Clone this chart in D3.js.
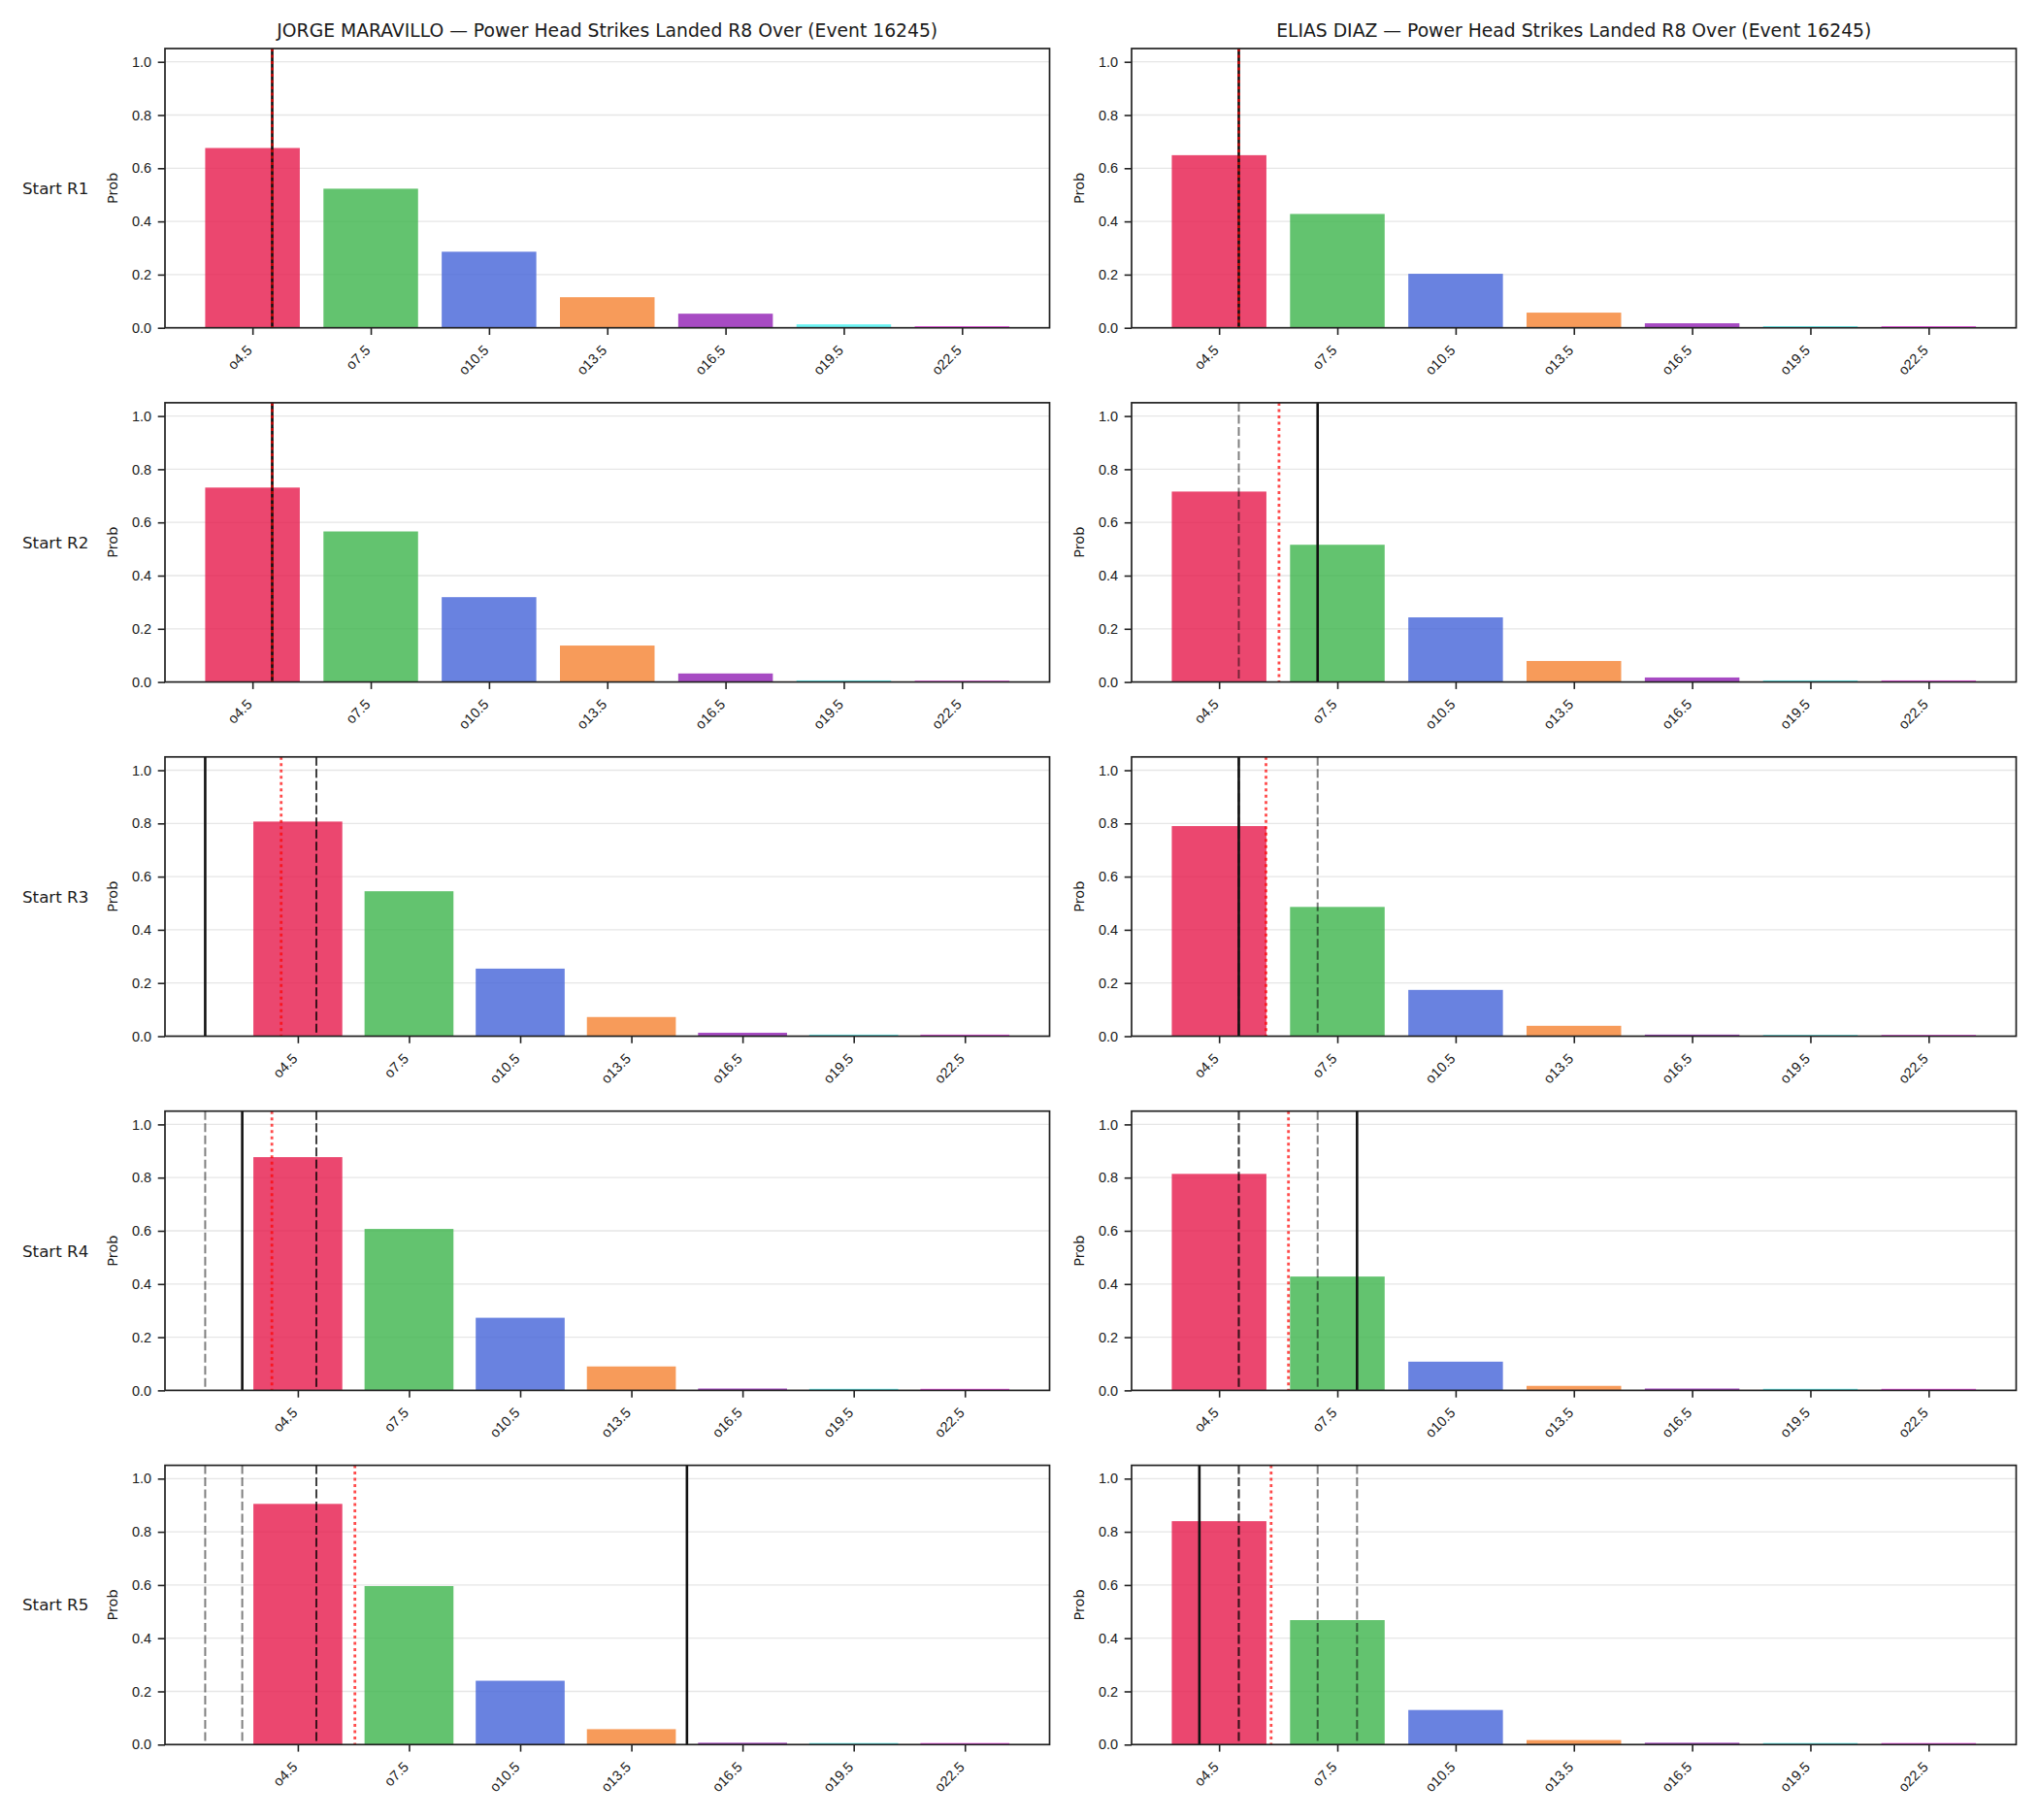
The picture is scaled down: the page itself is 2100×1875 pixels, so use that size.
<!DOCTYPE html>
<html>
<head>
  <meta charset="utf-8">
  <title>Power Head Strikes Landed R8 Over</title>
  <style type="text/css">
    body {
      margin: 0;
      background-color: #fff;
    }
    svg {
      display: block;
      background-color: white;
      font-family: "DejaVu Sans", sans-serif;
    }
    .axis text {
      fill: #1a1a1a;
      font-size: 14.5px;
    }
    .axis line {
      stroke: #222;
      stroke-width: 1.6;
    }
    .grid line {
      stroke: #e6e6e6;
      stroke-width: 1.3;
    }
  </style>
  <script src="https://d3js.org/d3.v7.min.js"></script>
</head>
<body>
<script>
// lines on offer (strikes) and their labels
var thresholds = [4.5, 7.5, 10.5, 13.5, 16.5, 19.5, 22.5];
var tickLabels = ["o4.5", "o7.5", "o10.5", "o13.5", "o16.5", "o19.5", "o22.5"];
var barColors = ["#e6194b", "#3cb44b", "#4363d8", "#f58231", "#911eb4", "#46f0f0", "#f032e6"];

var players = ["JORGE MARAVILLO", "ELIAS DIAZ"];
var rounds = ["Start R1", "Start R2", "Start R3", "Start R4", "Start R5"];

// P(over) for each line, one row per starting round
var maravilloProbs = [
  [0.676, 0.523, 0.286, 0.115, 0.053, 0.013, 0.006],
  [0.731, 0.566, 0.319, 0.137, 0.032, 0.006, 0.005],
  [0.807, 0.545, 0.254, 0.072, 0.013, 0.006, 0.006],
  [0.877, 0.607, 0.273, 0.090, 0.007, 0.006, 0.006],
  [0.905, 0.596, 0.240, 0.058, 0.007, 0.006, 0.006]
];
var diazProbs = [
  [0.649, 0.428, 0.203, 0.057, 0.017, 0.006, 0.006],
  [0.716, 0.516, 0.243, 0.079, 0.017, 0.006, 0.006],
  [0.790, 0.486, 0.174, 0.039, 0.006, 0.005, 0.005],
  [0.814, 0.428, 0.108, 0.017, 0.007, 0.006, 0.006],
  [0.840, 0.468, 0.130, 0.017, 0.007, 0.006, 0.006]
];

// solid line: value at start of round; dotted red: projected mean
var maravilloStart = [5, 5, 2, 3, 15];
var diazStart = [5, 7, 5, 8, 4];
var maravilloMean = [5.0, 5.0, 4.05, 3.8, 6.04];
var diazMean = [5.0, 6.02, 5.69, 6.26, 5.82];

var probsBy = [maravilloProbs, diazProbs];
var startBy = [maravilloStart, diazStart];
var meanBy = [maravilloMean, diazMean];

var W = 2100, H = 1875;
var colLeft = [170, 1166];
var axW = 911.5, axH = 287.7;
var rowTop = function(r) { return 50 + r * 364.9; };
var halfBar = 1.2; // 0.8 of one 3-strike step

var svg = d3.select("body").append("svg")
  .attr("width", W)
  .attr("height", H);

rounds.forEach(function(roundName, r) {
  svg.append("text")
    .attr("x", 23)
    .attr("y", rowTop(r) + axH / 2)
    .attr("dominant-baseline", "central")
    .style("font-size", "16.7px")
    .style("fill", "#1a1a1a")
    .text(roundName);

  players.forEach(function(player, c) {
    var probs = probsBy[c][r];
    var cur = startBy[c][r];
    var mean = meanBy[c][r];
    var prior = startBy[c].slice(0, r);

    // x range like matplotlib autoscale (bars + vlines, 5% margin)
    var lo = d3.min([thresholds[0] - halfBar, cur, mean].concat(prior));
    var hi = d3.max([thresholds[thresholds.length - 1] + halfBar, cur, mean].concat(prior));
    var m = 0.05 * (hi - lo);

    var x = d3.scaleLinear().domain([lo - m, hi + m]).range([0, axW]);
    var y = d3.scaleLinear().domain([0, 1.05]).range([axH, 0]);

    var g = svg.append("g")
      .attr("transform", "translate(" + colLeft[c] + "," + rowTop(r) + ")");

    // grid
    g.append("g").attr("class", "grid")
      .selectAll("line")
      .data(d3.range(0, 1.01, 0.2))
      .enter().append("line")
        .attr("x1", 0).attr("x2", axW)
        .attr("y1", function(d) { return y(d); })
        .attr("y2", function(d) { return y(d); });

    // bars
    g.selectAll("rect.bar")
      .data(probs)
      .enter().append("rect")
        .attr("class", "bar")
        .attr("x", function(d, i) { return x(thresholds[i] - halfBar); })
        .attr("width", function(d, i) { return x(thresholds[i] + halfBar) - x(thresholds[i] - halfBar); })
        .attr("y", function(d) { return y(d); })
        .attr("height", function(d) { return y(0) - y(d); })
        .style("fill", function(d, i) { return barColors[i]; })
        .style("fill-opacity", 0.8);

    // earlier rounds' start values
    g.selectAll("line.prior")
      .data(prior)
      .enter().append("line")
        .attr("class", "prior")
        .attr("x1", function(d) { return x(d); })
        .attr("x2", function(d) { return x(d); })
        .attr("y1", 0).attr("y2", axH)
        .style("stroke", "#000")
        .style("stroke-opacity", 0.5)
        .style("stroke-width", 2)
        .style("stroke-dasharray", "9,3.5");

    g.append("line")
      .attr("x1", x(cur)).attr("x2", x(cur))
      .attr("y1", 0).attr("y2", axH)
      .style("stroke", "#111")
      .style("stroke-width", 2.6);

    g.append("line")
      .attr("x1", x(mean)).attr("x2", x(mean))
      .attr("y1", 0).attr("y2", axH)
      .style("stroke", "#ff0000")
      .style("stroke-opacity", 0.7)
      .style("stroke-width", 2.8)
      .style("stroke-dasharray", "3,3.5");

    // axes
    var yaxis = d3.axisLeft(y)
      .tickValues(d3.range(0, 1.01, 0.2))
      .tickFormat(d3.format(".1f"))
      .tickSize(7.3)
      .tickPadding(6.5);
    var ya = g.append("g").attr("class", "axis").call(yaxis);
    ya.select(".domain").remove();

    var xaxis = d3.axisBottom(x)
      .tickValues(thresholds)
      .tickFormat(function(d, i) { return tickLabels[i]; })
      .tickSize(7.3);
    var xa = g.append("g").attr("class", "axis")
      .attr("transform", "translate(0," + axH + ")")
      .call(xaxis);
    xa.select(".domain").remove();
    xa.selectAll("text")
      .attr("y", 0).attr("dy", null)
      .attr("text-anchor", "end")
      .attr("transform", "translate(0,24) rotate(-45)");

    // frame
    g.append("rect")
      .attr("width", axW).attr("height", axH)
      .style("fill", "none")
      .style("stroke", "#222")
      .style("stroke-width", 1.7);

    g.append("text")
      .attr("transform", "translate(-54.5," + (axH / 2) + ") rotate(-90)")
      .attr("text-anchor", "middle")
      .attr("dominant-baseline", "central")
      .style("font-size", "14.5px")
      .style("fill", "#1a1a1a")
      .text("Prob");

    if (r === 0) {
      g.append("text")
        .attr("x", axW / 2)
        .attr("y", -12.5)
        .attr("text-anchor", "middle")
        .style("font-size", "18.75px")
        .style("fill", "#1a1a1a")
        .text(player + " \u2014 Power Head Strikes Landed R8 Over (Event 16245)");
    }
  });
});
</script>
</body>
</html>
